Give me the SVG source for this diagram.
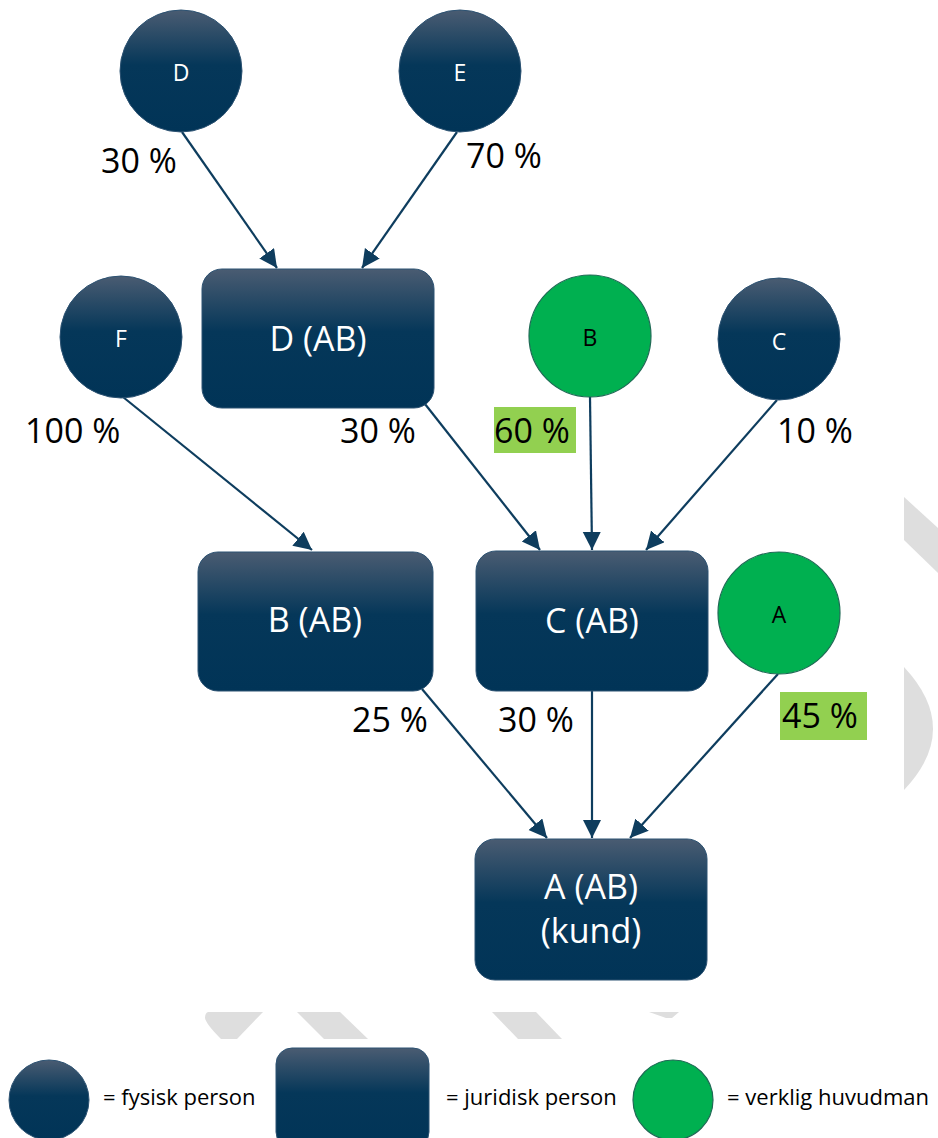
<svg xmlns="http://www.w3.org/2000/svg" width="938" height="1138" viewBox="0 0 938 1138">
<defs>
<linearGradient id="navy" x1="0" y1="0" x2="0" y2="1">
<stop offset="0" stop-color="#4a5c72"/>
<stop offset="0.45" stop-color="#053759"/>
<stop offset="1" stop-color="#013457"/>
</linearGradient>
<marker id="arr" markerUnits="userSpaceOnUse" markerWidth="20" markerHeight="20" refX="18" refY="9" orient="auto">
<path d="M0,0 L18,9 L0,18 Z" fill="#0e3d5e"/>
</marker>
<style>
.nav{fill:url(#navy);stroke:#2c5272;stroke-width:1}
.grn{fill:#00b050;stroke:#1f6a55;stroke-width:1.2}
.lw{font-family:"Open Sans","Liberation Sans",sans-serif;font-size:23px;fill:#ffffff;text-anchor:middle}
.lb{font-family:"Open Sans","Liberation Sans",sans-serif;font-size:23px;fill:#000000;text-anchor:middle}
.big{font-family:"Open Sans","Liberation Sans",sans-serif;font-size:34px;fill:#ffffff;text-anchor:middle}
.pct{font-family:"Open Sans","Liberation Sans",sans-serif;font-size:34px;fill:#000000}
.leg{font-family:"Open Sans","Liberation Sans",sans-serif;font-size:22px;fill:#000000}
.con line{stroke:#0e3d5e;stroke-width:2.2;marker-end:url(#arr)}
.wm{fill:#dedede}
</style>
</defs>
<rect x="0" y="0" width="938" height="1138" fill="#ffffff"/>
<g id="watermark">
<polygon class="wm" points="904,497 938,528 938,573 904,540"/>
<path class="wm" d="M904,667 Q962,729 904,790 Z"/>
<path class="wm" d="M208,1012 L263,1012 L237,1039 L221,1039 Q206,1024 205,1018 Q205,1013 208,1012 Z"/>
<polygon class="wm" points="297,1012 340,1012 368,1039 324,1039"/>
<polygon class="wm" points="492,1012 536,1012 562,1039 518,1039"/>
<polygon class="wm" points="649,1012 679,1012 672,1018 666,1018"/>
</g>
<g id="connectors" class="con">
<line x1="182" y1="132" x2="277" y2="268"/>
<line x1="457" y1="132" x2="362" y2="268"/>
<line x1="123" y1="397" x2="312" y2="550"/>
<line x1="425" y1="404" x2="540" y2="550"/>
<line x1="590" y1="397" x2="592" y2="550"/>
<line x1="777" y1="400" x2="646" y2="550"/>
<line x1="422" y1="689" x2="547" y2="838"/>
<line x1="592" y1="691" x2="592" y2="838"/>
<line x1="778" y1="674" x2="630" y2="838"/>
</g>
<g id="node-D">
<circle class="nav" cx="181" cy="71" r="61"/>
<text class="lw" x="181" y="81">D</text>
</g>
<g id="node-E">
<circle class="nav" cx="460" cy="71" r="61"/>
<text class="lw" x="460" y="81">E</text>
</g>
<g id="node-DAB">
<rect class="nav" x="202" y="269" width="232" height="139" rx="20"/>
<text class="big" x="318" y="351">D (AB)</text>
</g>
<g id="node-F">
<circle class="nav" cx="121" cy="337" r="61"/>
<text class="lw" x="121" y="347">F</text>
</g>
<g id="node-B">
<circle class="grn" cx="590" cy="336" r="61"/>
<text class="lb" x="590" y="346">B</text>
</g>
<g id="node-C">
<circle class="nav" cx="779" cy="339" r="61"/>
<text class="lw" x="779" y="350">C</text>
</g>
<g id="node-BAB">
<rect class="nav" x="198" y="552" width="235" height="139" rx="20"/>
<text class="big" x="315" y="632">B (AB)</text>
</g>
<g id="node-CAB">
<rect class="nav" x="476" y="551" width="232" height="140" rx="20"/>
<text class="big" x="592" y="633">C (AB)</text>
</g>
<g id="node-A">
<circle class="grn" cx="779" cy="613" r="61"/>
<text class="lb" x="779" y="623">A</text>
</g>
<g id="node-AAB">
<rect class="nav" x="475" y="839" width="232" height="141" rx="20"/>
<text class="big" x="591" y="899">A (AB)</text>
<text class="big" x="591" y="943">(kund)</text>
</g>
<g id="labels">
<text class="pct" x="101" y="173">30 %</text>
<text class="pct" x="466" y="168">70 %</text>
<text class="pct" x="25" y="443">100 %</text>
<text class="pct" x="340" y="443">30 %</text>
<rect x="494" y="407" width="82" height="46" fill="#92d050"/>
<text class="pct" x="494" y="443">60 %</text>
<text class="pct" x="777" y="443">10 %</text>
<text class="pct" x="352" y="732">25 %</text>
<text class="pct" x="498" y="732">30 %</text>
<rect x="780" y="692" width="87" height="48" fill="#92d050"/>
<text class="pct" x="782" y="728">45 %</text>
</g>
<g id="legend">
<circle class="nav" cx="49" cy="1100" r="40"/>
<text class="leg" x="103" y="1105">= fysisk person</text>
<rect class="nav" x="276" y="1048" width="153" height="100" rx="16"/>
<text class="leg" x="446" y="1105">= juridisk person</text>
<circle class="grn" cx="673" cy="1100" r="40"/>
<text class="leg" x="727" y="1105">= verklig huvudman</text>
</g>
</svg>
